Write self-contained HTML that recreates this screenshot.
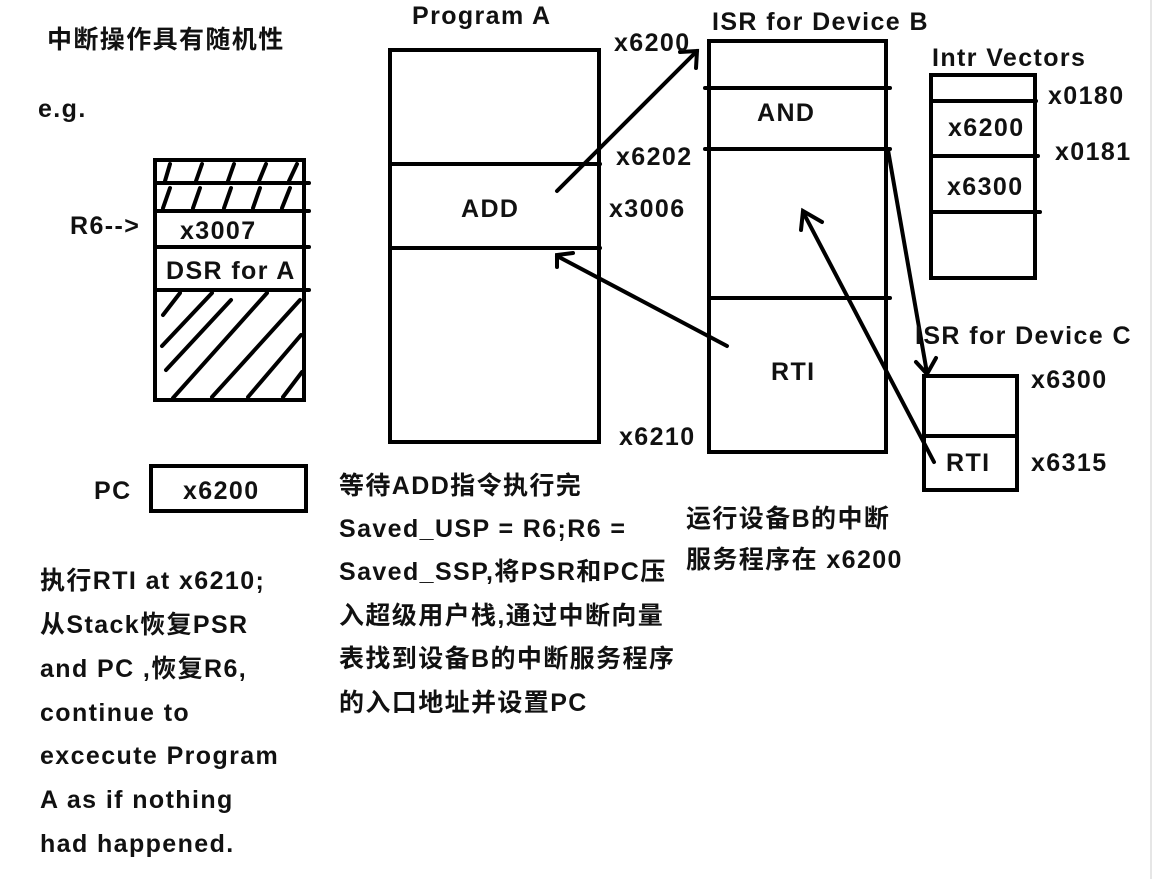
<!DOCTYPE html>
<html><head><meta charset="utf-8"><style>
html,body{margin:0;padding:0;background:#fff;}
svg{display:block;}
text{font-family:"Liberation Sans","Noto Sans CJK SC",sans-serif;font-weight:bold;font-size:25px;fill:#111;letter-spacing:1.4px;}
</style></head><body>
<svg width="1156" height="879" viewBox="0 0 1156 879" xmlns="http://www.w3.org/2000/svg">
<rect x="0" y="0" width="1156" height="879" fill="#fff"/>
<line x1="1151" y1="0" x2="1151" y2="879" stroke="#e6e6e6" stroke-width="2"/>
<g stroke="#000" stroke-width="4" fill="none" stroke-linecap="round">
<rect x="155" y="160" width="149" height="240"/>
<line x1="155" y1="183" x2="309" y2="183"/>
<line x1="155" y1="211" x2="309" y2="211"/>
<line x1="155" y1="247" x2="309" y2="247"/>
<line x1="155" y1="290" x2="309" y2="290"/>
<line x1="165" y1="181" x2="170" y2="164"/><line x1="196" y1="181" x2="202" y2="164"/><line x1="228" y1="181" x2="234" y2="164"/><line x1="259" y1="181" x2="266" y2="164"/><line x1="289" y1="181" x2="297" y2="164"/>
<line x1="163" y1="208" x2="170" y2="188"/><line x1="193" y1="208" x2="200" y2="188"/><line x1="224" y1="208" x2="231" y2="188"/><line x1="253" y1="208" x2="260" y2="188"/><line x1="282" y1="208" x2="290" y2="188"/>
<line x1="163" y1="315" x2="180" y2="293"/>
<line x1="162" y1="346" x2="212" y2="293"/>
<line x1="166" y1="370" x2="231" y2="300"/>
<line x1="173" y1="398" x2="267" y2="293"/>
<line x1="212" y1="397" x2="300" y2="300"/>
<line x1="248" y1="397" x2="301" y2="335"/>
<line x1="283" y1="397" x2="302" y2="372"/>
<rect x="390" y="50" width="209" height="392"/>
<line x1="390" y1="164" x2="600" y2="164"/>
<line x1="390" y1="248" x2="600" y2="248"/>
<rect x="709" y="41" width="177" height="411"/>
<line x1="705" y1="88" x2="890" y2="88"/>
<line x1="705" y1="149" x2="890" y2="149"/>
<line x1="709" y1="298" x2="890" y2="298"/>
<rect x="931" y="75" width="104" height="203"/>
<line x1="931" y1="101" x2="1036" y2="101"/>
<line x1="931" y1="156" x2="1038" y2="156"/>
<line x1="931" y1="212" x2="1040" y2="212"/>
<rect x="924" y="376" width="93" height="114"/>
<line x1="924" y1="436" x2="1017" y2="436"/>
<rect x="151" y="466" width="155" height="45"/>
<line x1="557" y1="191" x2="697" y2="51"/>
<polyline points="680,52 697,51 696,68"/>
<line x1="727" y1="346" x2="557" y2="256"/>
<polyline points="557,267 557,255 573,253"/>
<line x1="934" y1="462" x2="803" y2="212"/>
<polyline points="801,230 803,211 822,222"/>
<line x1="888" y1="150" x2="927" y2="373"/>
<polyline points="916,362 927,374 936,358"/>
</g>
<text x="47" y="48" font-size="24">中断操作具有随机性</text>
<text x="38" y="117" font-size="23">e.g.</text>
<text x="70" y="234" font-size="23">R6--&gt;</text>
<text x="180" y="239" font-size="24">x3007</text>
<text x="166" y="279" font-size="24">DSR for A</text>
<text x="412" y="24">Program A</text>
<text x="461" y="217">ADD</text>
<text x="614" y="51">x6200</text>
<text x="616" y="165">x6202</text>
<text x="609" y="217">x3006</text>
<text x="619" y="445">x6210</text>
<text x="712" y="30">ISR for Device B</text>
<text x="757" y="121">AND</text>
<text x="771" y="380">RTI</text>
<text x="932" y="66">Intr Vectors</text>
<text x="1048" y="104">x0180</text>
<text x="948" y="136">x6200</text>
<text x="1055" y="160">x0181</text>
<text x="947" y="195">x6300</text>
<text x="915" y="344">ISR for Device C</text>
<text x="1031" y="388">x6300</text>
<text x="946" y="471">RTI</text>
<text x="1031" y="471">x6315</text>
<text x="94" y="499">PC</text>
<text x="183" y="499">x6200</text>
<g font-size="24">
<text x="339" y="494">等待ADD指令执行完</text>
<text x="339" y="537">Saved_USP = R6;R6 =</text>
<text x="339" y="580">Saved_SSP,将PSR和PC压</text>
<text x="339" y="624">入超级用户栈,通过中断向量</text>
<text x="339" y="667">表找到设备B的中断服务程序</text>
<text x="339" y="711">的入口地址并设置PC</text>
<text x="686" y="527">运行设备B的中断</text>
<text x="686" y="568">服务程序在 x6200</text>
<text x="40" y="589">执行RTI at x6210;</text>
<text x="40" y="633">从Stack恢复PSR</text>
<text x="40" y="677">and PC ,恢复R6,</text>
<text x="40" y="721">continue to</text>
<text x="40" y="764">excecute Program</text>
<text x="40" y="808">A as if nothing</text>
<text x="40" y="852">had happened.</text>
</g>
</svg>
</body></html>
